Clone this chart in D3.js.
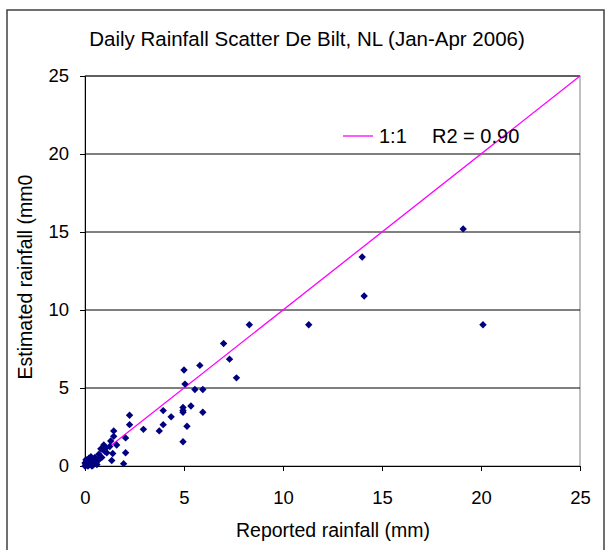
<!DOCTYPE html>
<html>
<head>
<meta charset="utf-8">
<script src="https://cdn.jsdelivr.net/npm/d3@7"></script>
<style>
  body { margin: 0; background: #fff; }
  svg { font-family: "Liberation Sans", Arial, sans-serif; }
</style>
</head>
<body>
<div id="chart"></div>
<script>
const width = 609, height = 550;

// reported (x) vs estimated (y), mm
const reported = [19.1, 14.0, 14.1, 11.3, 20.1, 8.3, 7.0, 7.3, 5.8, 5.0, 7.65, 5.05, 5.55, 5.95,
  4.95, 4.95, 4.95, 5.35, 5.95, 5.15, 4.95,
  2.25, 2.25, 3.95, 4.35, 3.95, 3.75, 2.95, 1.45, 1.45, 2.05, 1.3, 0.95, 1.6, 1.25, 0.8, 1.05,
  1.1, 1.4, 2.05, 1.35, 1.95, 0.7, 0.5, 0.85, 1.0,
  0.0, 0.05, 0.1, 0.15, 0.2, 0.25, 0.3, 0.35, 0.4, 0.45, 0.5, 0.55, 0.6, 0.2, 0.3, 0.1, 0.0,
  0.05, 0.4, 0.6, 0.7, 0.35, 0.15];
const estimated = [15.2, 13.4, 10.9, 9.05, 9.05, 9.05, 7.85, 6.85, 6.45, 6.15, 5.65, 5.25, 4.9, 4.9,
  3.75, 3.55, 3.45, 3.85, 3.45, 2.55, 1.55,
  3.25, 2.65, 3.55, 3.15, 2.65, 2.25, 2.35, 2.25, 1.9, 1.8, 1.6, 1.35, 1.35, 1.25, 1.1, 1.15,
  0.85, 0.8, 0.85, 0.35, 0.15, 0.75, 0.55, 0.55, 0.95,
  0.0, 0.1, 0.05, 0.25, 0.1, 0.35, 0.2, 0.45, 0.3, 0.15, 0.4, 0.2, 0.35, 0.5, 0.6, 0.35, 0.2,
  0.4, 0.05, 0.1, 0.4, 0.0, 0.0];
const ticks = [0, 5, 10, 15, 20, 25];

const title = "Daily Rainfall Scatter De Bilt, NL (Jan-Apr 2006)";
const xTitle = "Reported rainfall (mm)";
const yTitle = "Estimated rainfall (mm0";

const plotL = 85, plotR = 580, plotT = 76, plotB = 466;

const svg = d3.select("#chart").append("svg")
  .attr("width", width).attr("height", height);

// outer frame
svg.append("rect")
  .attr("x", 7).attr("y", 10).attr("width", 597).attr("height", 545)
  .attr("fill", "none").attr("stroke", "#404040").attr("stroke-width", 1.5);

const x = d3.scaleLinear().domain([0, 25]).range([plotL, plotR]);
const y = d3.scaleLinear().domain([0, 25]).range([plotB, plotT]);

// plot area border
svg.append("rect")
  .attr("x", plotL).attr("y", plotT).attr("width", plotR - plotL).attr("height", plotB - plotT)
  .attr("fill", "none").attr("stroke", "#808080");

// gridlines
svg.append("g").selectAll("line")
  .data(ticks.filter(d => d > 0))
  .join("line")
  .attr("x1", plotL).attr("x2", plotR)
  .attr("y1", d => y(d)).attr("y2", d => y(d))
  .attr("stroke", "#000").attr("stroke-width", 1);

// axes
const xAxis = svg.append("g")
  .attr("transform", `translate(0,${plotB})`)
  .call(d3.axisBottom(x).tickValues(ticks).tickSize(5).tickPadding(20));
const yAxis = svg.append("g")
  .attr("transform", `translate(${plotL},0)`)
  .call(d3.axisLeft(y).tickValues(ticks).tickSize(5).tickPadding(11));
[xAxis, yAxis].forEach(a => {
  a.select(".domain").attr("stroke", "#000");
  a.selectAll(".tick line").attr("stroke", "#000");
  a.selectAll("text").attr("fill", "#000").style("font-size", "18.5px")
    .style("font-family", "Liberation Sans, Arial, sans-serif");
});

// 1:1 line
svg.append("line")
  .attr("x1", x(0)).attr("y1", y(0)).attr("x2", x(25)).attr("y2", y(25))
  .attr("stroke", "#ff00ff").attr("stroke-width", 1.3);

// points
const pts = reported.map((r, i) => [r, estimated[i]]);
svg.append("g").selectAll("path")
  .data(pts)
  .join("path")
  .attr("transform", d => `translate(${x(d[0])},${y(d[1])})`)
  .attr("d", "M0,-3.7L3.7,0L0,3.7L-3.7,0Z")
  .attr("fill", "#000080");

// legend
svg.append("line")
  .attr("x1", 343).attr("x2", 373).attr("y1", 136).attr("y2", 136)
  .attr("stroke", "#ff00ff").attr("stroke-width", 1.3);
svg.append("text").attr("x", 379).attr("y", 143).style("font-size", "20px").text("1:1");
svg.append("text").attr("x", 432).attr("y", 143).style("font-size", "20px").text("R2 = 0.90");

// titles
svg.append("text")
  .attr("x", 307).attr("y", 46).attr("text-anchor", "middle")
  .style("font-size", "20.5px").text(title);
svg.append("text")
  .attr("x", 333).attr("y", 537).attr("text-anchor", "middle")
  .style("font-size", "19.5px").text(xTitle);
svg.append("text")
  .attr("transform", "translate(32,277) rotate(-90)").attr("text-anchor", "middle")
  .style("font-size", "19.5px").text(yTitle);
</script>
</body>
</html>
